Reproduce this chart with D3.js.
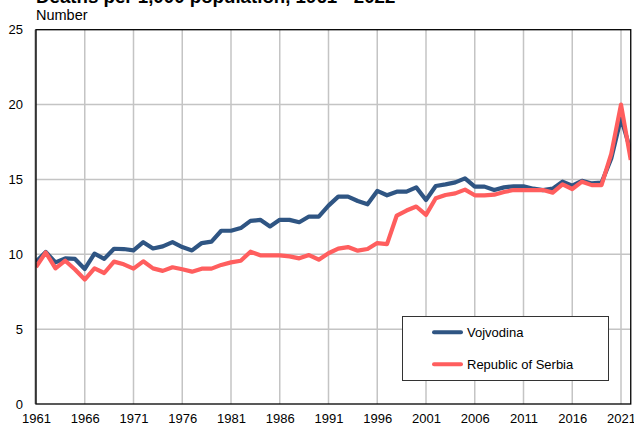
<!DOCTYPE html>
<html><head><meta charset="utf-8">
<script src="https://cdn.jsdelivr.net/npm/d3@7"></script>
<style>
html,body{margin:0;padding:0;background:#fff;}
svg{display:block;font-family:"Liberation Sans",Arial,sans-serif;}
</style></head>
<body>
<svg id="chart" width="634" height="428"></svg>
<script>
const years = d3.range(1961, 2023);
const vojvodina = [
 9.5,10.15,9.46,9.73,9.69,9.02,10.04,9.69,10.37,10.35,10.26,10.81,10.39,10.53,10.81,10.48,
 10.26,10.75,10.85,11.57,11.57,11.75,12.23,12.3,11.86,12.3,12.3,12.14,12.52,12.52,13.25,13.85,
 13.85,13.56,13.34,14.23,13.94,14.18,14.18,14.47,13.63,14.56,14.67,14.8,15.07,14.52,14.52,14.29,
 14.47,14.54,14.54,14.38,14.29,14.38,14.85,14.58,14.91,14.73,14.78,16.4,19.1,16.9];
const serbia = [
 9.15,10.12,9.06,9.57,8.98,8.31,9.06,8.75,9.51,9.33,9.04,9.53,9.06,8.89,9.13,9.0,
 8.84,9.04,9.04,9.29,9.46,9.57,10.17,9.93,9.93,9.93,9.86,9.73,9.95,9.64,10.07,10.38,
 10.48,10.24,10.35,10.75,10.68,12.59,12.92,13.19,12.63,13.74,13.96,14.07,14.32,13.94,13.94,13.98,
 14.16,14.29,14.29,14.29,14.29,14.12,14.67,14.36,14.85,14.62,14.62,16.7,20.0,16.3];
const xTicks = d3.range(1961, 2022, 5);
const yTicks = [0,5,10,15,20,25];
const seriesNames = ["Vojvodina","Republic of Serbia"];
const colors = ["#2f5583","#ff5e5e"];

const svg = d3.select("#chart");
const L = 36, R = 630.75, T = 29.7, B = 404;
const x = d3.scaleLinear().domain([1961, 2022]).range([L, R]);
const y = d3.scaleLinear().domain([0, 25]).range([B, T]);

// gridlines
svg.append("g").selectAll("line").data(yTicks.filter(d => d > 0 && d < 25)).join("line")
  .attr("x1", L).attr("x2", R).attr("y1", d => y(d)).attr("y2", d => y(d))
  .attr("stroke", "#c4c4c4").attr("stroke-width", 1.5);
svg.append("g").selectAll("line").data(xTicks.slice(1)).join("line")
  .attr("x1", d => x(d)).attr("x2", d => x(d)).attr("y1", T).attr("y2", B)
  .attr("stroke", "#c4c4c4").attr("stroke-width", 1.5);

// axes labels
const yAxis = d3.axisLeft(y).tickValues(yTicks).tickSize(0).tickPadding(13);
const gy = svg.append("g").attr("transform", `translate(${L},0)`).call(yAxis);
gy.select(".domain").remove();
gy.selectAll("text").attr("font-size", 13).attr("fill", "#000").attr("font-family", "Liberation Sans, Arial, sans-serif");

const xAxis = d3.axisBottom(x).tickValues(xTicks).tickFormat(d3.format("d")).tickSize(0).tickPadding(10);
const gx = svg.append("g").attr("transform", `translate(0,${B})`).call(xAxis);
gx.select(".domain").remove();
gx.selectAll("text").attr("font-size", 13).attr("fill", "#000").attr("font-family", "Liberation Sans, Arial, sans-serif");

// lines
const line = d3.line().x((d, i) => x(years[i])).y(d => y(d));
const plot = svg.append("g");
svg.append("clipPath").attr("id", "clip").append("rect").attr("x", L).attr("y", 0).attr("width", R - L).attr("height", 428);
plot.attr("clip-path", "url(#clip)");
[vojvodina, serbia].forEach((s, k) => {
  plot.append("path").datum(s).attr("d", line).attr("fill", "none")
    .attr("stroke", colors[k]).attr("stroke-width", 4.2).attr("stroke-linejoin", "round");
});

// frame
svg.append("rect").attr("x", L).attr("y", T).attr("width", R - L).attr("height", B - T)
  .attr("fill", "none").attr("stroke", "#000").attr("stroke-width", 1.3);
svg.append("line").attr("x1", L - 0.5).attr("x2", L - 0.5).attr("y1", T).attr("y2", B)
  .attr("stroke", "#333").attr("stroke-width", 1.5);

// title
svg.append("text").attr("x", L).attr("y", 2.5).attr("font-size", 18.7).attr("font-weight", "bold")
  .text("Deaths per 1,000 population, 1961 - 2022");
svg.append("text").attr("x", L).attr("y", 19.5).attr("font-size", 14.5).text("Number");

// legend
const lg = svg.append("g");
lg.append("rect").attr("x", 402.5).attr("y", 316.5).attr("width", 206).attr("height", 64)
  .attr("fill", "#fff").attr("stroke", "#333").attr("stroke-width", 1);
seriesNames.forEach((n, k) => {
  const yy = 332.3 + k * 32;
  lg.append("line").attr("x1", 434).attr("x2", 461).attr("y1", yy).attr("y2", yy)
    .attr("stroke", colors[k]).attr("stroke-width", 4).attr("stroke-linecap", "round");
  lg.append("text").attr("x", 467).attr("y", yy).attr("dy", "0.35em").attr("font-size", 13).text(n);
});
</script>
</body></html>
